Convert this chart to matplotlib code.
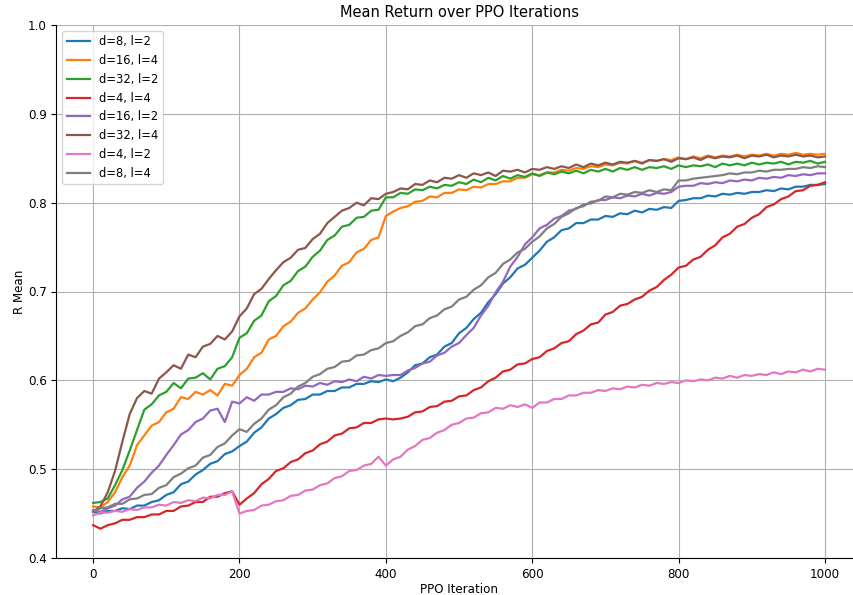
import matplotlib
matplotlib.use("Agg")
import matplotlib.pyplot as plt

iterations = list(range(0, 1001, 10))

labels = ["d=8, l=2", "d=16, l=4", "d=32, l=2", "d=4, l=4",
          "d=16, l=2", "d=32, l=4", "d=4, l=2", "d=8, l=4"]

d8_l2 = [0.452, 0.450, 0.453, 0.453, 0.456, 0.455, 0.459, 0.459, 0.463, 0.465,
         0.471, 0.474, 0.483, 0.486, 0.494, 0.499, 0.506, 0.509, 0.517, 0.520,
         0.526, 0.531, 0.541, 0.547, 0.557, 0.562, 0.569, 0.572, 0.578, 0.579,
         0.584, 0.584, 0.588, 0.588, 0.592, 0.592, 0.596, 0.596, 0.599, 0.598,
         0.601, 0.599, 0.603, 0.609, 0.617, 0.619, 0.626, 0.629, 0.638, 0.642,
         0.653, 0.659, 0.669, 0.676, 0.688, 0.697, 0.709, 0.716, 0.726, 0.730,
         0.738, 0.746, 0.756, 0.761, 0.769, 0.771, 0.777, 0.777, 0.781, 0.781,
         0.785, 0.784, 0.788, 0.787, 0.791, 0.789, 0.793, 0.792, 0.795, 0.794,
         0.802, 0.803, 0.805, 0.805, 0.808, 0.807, 0.810, 0.809, 0.811, 0.810,
         0.812, 0.812, 0.814, 0.813, 0.816, 0.815, 0.818, 0.818, 0.820, 0.820,
         0.821]

d16_l4 = [0.458, 0.457, 0.463, 0.474, 0.491, 0.504, 0.527, 0.538, 0.549, 0.553,
          0.564, 0.568, 0.581, 0.579, 0.587, 0.584, 0.589, 0.583, 0.596, 0.594,
          0.606, 0.613, 0.626, 0.631, 0.646, 0.650, 0.661, 0.666, 0.676, 0.681,
          0.691, 0.699, 0.711, 0.718, 0.729, 0.733, 0.744, 0.748, 0.758, 0.761,
          0.785, 0.790, 0.794, 0.796, 0.801, 0.802, 0.807, 0.806, 0.811, 0.811,
          0.815, 0.814, 0.818, 0.817, 0.821, 0.821, 0.824, 0.824, 0.828, 0.828,
          0.832, 0.831, 0.834, 0.834, 0.837, 0.836, 0.839, 0.838, 0.841, 0.840,
          0.843, 0.842, 0.845, 0.844, 0.847, 0.845, 0.848, 0.847, 0.849, 0.848,
          0.851, 0.849, 0.852, 0.850, 0.853, 0.851, 0.853, 0.852, 0.854, 0.852,
          0.854, 0.853, 0.855, 0.853, 0.855, 0.854, 0.856, 0.854, 0.855, 0.854,
          0.855]

d32_l2 = [0.462, 0.463, 0.467, 0.482, 0.499, 0.521, 0.544, 0.567, 0.573, 0.583,
          0.587, 0.597, 0.591, 0.602, 0.603, 0.608, 0.601, 0.613, 0.616, 0.626,
          0.648, 0.653, 0.667, 0.673, 0.689, 0.695, 0.707, 0.712, 0.723, 0.728,
          0.739, 0.746, 0.758, 0.763, 0.773, 0.775, 0.783, 0.784, 0.791, 0.792,
          0.806, 0.806, 0.811, 0.810, 0.815, 0.814, 0.818, 0.816, 0.820, 0.819,
          0.823, 0.821, 0.826, 0.823, 0.828, 0.825, 0.830, 0.827, 0.831, 0.829,
          0.833, 0.830, 0.834, 0.832, 0.835, 0.833, 0.836, 0.833, 0.837, 0.835,
          0.838, 0.835, 0.839, 0.837, 0.840, 0.837, 0.840, 0.839, 0.841, 0.838,
          0.842, 0.840, 0.842, 0.841, 0.843, 0.840, 0.844, 0.842, 0.844, 0.842,
          0.845, 0.843, 0.845, 0.844, 0.846, 0.843, 0.846, 0.845, 0.847, 0.844,
          0.846]

d4_l4 = [0.437, 0.433, 0.437, 0.439, 0.443, 0.443, 0.446, 0.446, 0.449, 0.449,
         0.453, 0.453, 0.458, 0.459, 0.463, 0.463, 0.469, 0.469, 0.473, 0.475,
         0.460, 0.467, 0.473, 0.483, 0.489, 0.498, 0.501, 0.508, 0.511, 0.518,
         0.521, 0.528, 0.531, 0.538, 0.540, 0.546, 0.547, 0.552, 0.552, 0.556,
         0.557, 0.556, 0.557, 0.559, 0.564, 0.565, 0.570, 0.571, 0.576, 0.577,
         0.582, 0.583, 0.589, 0.592, 0.599, 0.603, 0.610, 0.612, 0.618, 0.619,
         0.624, 0.626, 0.633, 0.636, 0.642, 0.644, 0.652, 0.656, 0.663, 0.665,
         0.674, 0.677, 0.684, 0.686, 0.691, 0.694, 0.701, 0.705, 0.713, 0.719,
         0.727, 0.729, 0.736, 0.739, 0.747, 0.752, 0.761, 0.765, 0.773, 0.776,
         0.783, 0.787, 0.795, 0.798, 0.804, 0.807, 0.813, 0.814, 0.819, 0.820,
         0.823]

d16_l2 = [0.454, 0.452, 0.456, 0.459, 0.466, 0.469, 0.479, 0.486, 0.496, 0.504,
          0.516, 0.527, 0.539, 0.544, 0.553, 0.557, 0.566, 0.568, 0.553, 0.576,
          0.574, 0.581, 0.577, 0.584, 0.584, 0.587, 0.587, 0.591, 0.590, 0.594,
          0.593, 0.597, 0.595, 0.599, 0.598, 0.601, 0.599, 0.604, 0.602, 0.606,
          0.605, 0.606, 0.606, 0.611, 0.614, 0.619, 0.621, 0.628, 0.631, 0.638,
          0.642, 0.651, 0.659, 0.673, 0.684, 0.699, 0.711, 0.728, 0.739, 0.753,
          0.761, 0.771, 0.775, 0.782, 0.785, 0.791, 0.793, 0.798, 0.799, 0.803,
          0.803, 0.806, 0.805, 0.808, 0.807, 0.810, 0.808, 0.811, 0.810, 0.812,
          0.818, 0.819, 0.819, 0.822, 0.821, 0.823, 0.822, 0.825, 0.824, 0.826,
          0.825, 0.828, 0.827, 0.829, 0.828, 0.831, 0.830, 0.832, 0.831, 0.833,
          0.833]

d32_l4 = [0.452, 0.458, 0.474, 0.498, 0.531, 0.562, 0.580, 0.588, 0.585, 0.602,
          0.609, 0.617, 0.613, 0.629, 0.626, 0.638, 0.641, 0.650, 0.646, 0.655,
          0.672, 0.681, 0.697, 0.703, 0.714, 0.724, 0.733, 0.738, 0.747, 0.749,
          0.759, 0.765, 0.777, 0.784, 0.791, 0.794, 0.800, 0.797, 0.805, 0.804,
          0.810, 0.812, 0.816, 0.815, 0.821, 0.820, 0.825, 0.823, 0.828, 0.827,
          0.831, 0.828, 0.833, 0.831, 0.834, 0.830, 0.836, 0.835, 0.837, 0.834,
          0.838, 0.837, 0.840, 0.838, 0.841, 0.839, 0.843, 0.840, 0.844, 0.842,
          0.845, 0.843, 0.846, 0.845, 0.847, 0.844, 0.848, 0.847, 0.849, 0.846,
          0.850, 0.849, 0.851, 0.848, 0.852, 0.850, 0.852, 0.851, 0.853, 0.850,
          0.853, 0.852, 0.854, 0.851, 0.853, 0.852, 0.854, 0.852, 0.853, 0.851,
          0.852]

d4_l2 = [0.448, 0.451, 0.451, 0.453, 0.452, 0.455, 0.454, 0.457, 0.457, 0.460,
         0.459, 0.463, 0.462, 0.465, 0.464, 0.468, 0.467, 0.471, 0.471, 0.475,
         0.450, 0.453, 0.454, 0.459, 0.460, 0.464, 0.465, 0.470, 0.471, 0.476,
         0.477, 0.482, 0.484, 0.490, 0.492, 0.498, 0.499, 0.504, 0.506, 0.514,
         0.504, 0.511, 0.514, 0.522, 0.526, 0.533, 0.535, 0.541, 0.544, 0.550,
         0.552, 0.557, 0.558, 0.563, 0.564, 0.569, 0.568, 0.572, 0.570, 0.573,
         0.569, 0.575, 0.575, 0.579, 0.579, 0.583, 0.583, 0.586, 0.586, 0.589,
         0.588, 0.591, 0.590, 0.593, 0.592, 0.595, 0.594, 0.597, 0.596, 0.598,
         0.597, 0.600, 0.599, 0.601, 0.600, 0.603, 0.602, 0.605, 0.603, 0.606,
         0.605, 0.607, 0.606, 0.609, 0.607, 0.610, 0.609, 0.612, 0.610, 0.613,
         0.612]

d8_l4 = [0.452, 0.456, 0.457, 0.461, 0.461, 0.466, 0.467, 0.471, 0.472, 0.479,
         0.482, 0.491, 0.495, 0.501, 0.504, 0.513, 0.516, 0.525, 0.529, 0.538,
         0.545, 0.542, 0.551, 0.557, 0.567, 0.572, 0.581, 0.585, 0.593, 0.597,
         0.604, 0.607, 0.613, 0.615, 0.621, 0.622, 0.628, 0.629, 0.634, 0.636,
         0.642, 0.644, 0.650, 0.654, 0.661, 0.663, 0.670, 0.673, 0.680, 0.683,
         0.691, 0.694, 0.702, 0.707, 0.716, 0.721, 0.731, 0.736, 0.744, 0.748,
         0.756, 0.762, 0.771, 0.776, 0.784, 0.788, 0.794, 0.796, 0.801, 0.802,
         0.807, 0.806, 0.810, 0.809, 0.812, 0.811, 0.814, 0.812, 0.815, 0.814,
         0.825, 0.825, 0.827, 0.828, 0.829, 0.830, 0.831, 0.833, 0.832, 0.834,
         0.834, 0.836, 0.835, 0.837, 0.837, 0.838, 0.838, 0.840, 0.839, 0.841,
         0.840]

series = [d8_l2, d16_l4, d32_l2, d4_l4, d16_l2, d32_l4, d4_l2, d8_l4]

fig = plt.figure(figsize=(8.54, 5.95), dpi=100)
ax = fig.add_axes([56.5 / 854, 37 / 595, (861.6 - 56.5) / 854, (558 - 25) / 595])

for vals, lab in zip(series, labels):
    ax.plot(iterations, vals, label=lab, linewidth=1.6)

ax.set_ylim(0.4, 1.0)
ax.set_xlim(-50, 1050)
ax.set_title("Mean Return over PPO Iterations", fontsize=10.5)
ax.set_xlabel("PPO Iteration", fontsize=8.6, labelpad=1.8)
ax.set_ylabel("R Mean", fontsize=8.6, labelpad=1.5)
ax.tick_params(labelsize=8.6)
ax.grid(True, color="#b0b0b0", linewidth=0.8)
ax.spines["top"].set_visible(False)
ax.spines["right"].set_visible(False)
ax.legend(loc="upper left", fontsize=8.3)

fig.savefig("out.png", dpi=100)
